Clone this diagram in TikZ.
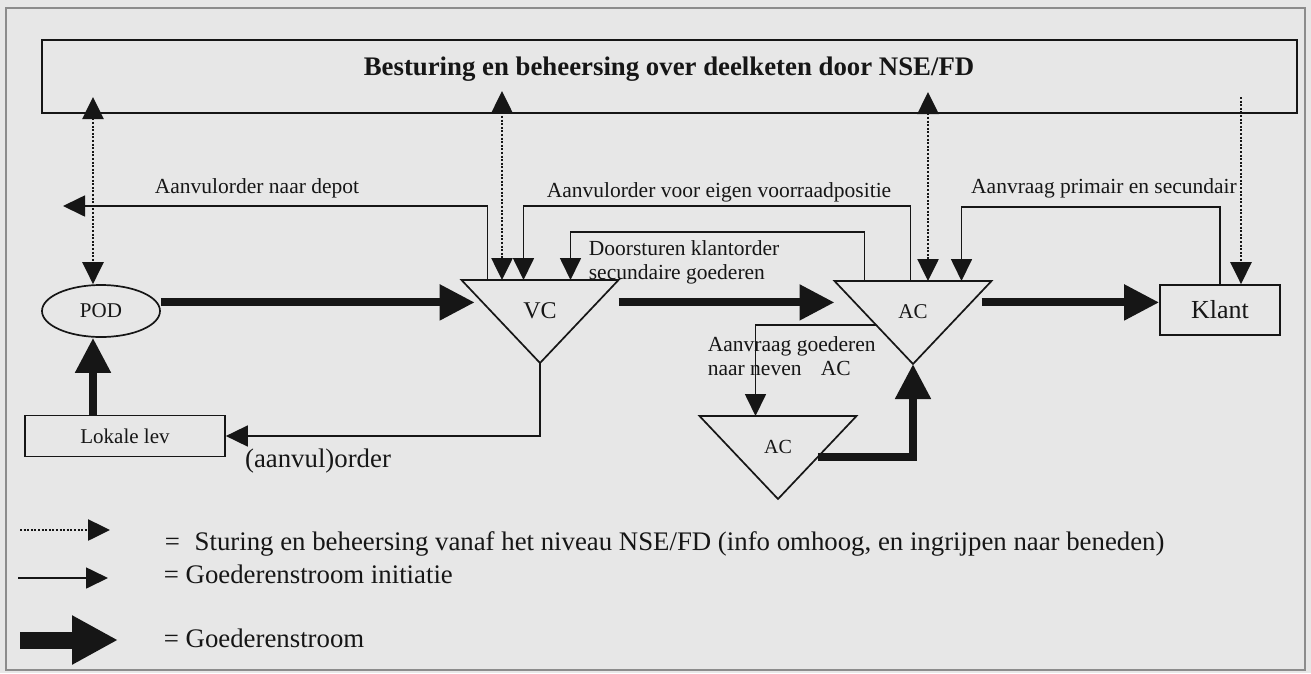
\documentclass[tikz,border=0pt]{standalone}
\usepackage{fontspec}
\setmainfont{Liberation Serif}
\usetikzlibrary{
  arrows.meta,
  shapes.geometric,
  calc
}
\definecolor{scanbg}{RGB}{231,231,231}
\definecolor{ink}{RGB}{22,22,22}
\definecolor{framegray}{RGB}{140,140,140}
\newcommand{\lblfont}{\fontsize{21.5}{24}\selectfont}
\newcommand{\legfont}{\fontsize{26.8}{30}\selectfont}
\newcommand{\titlefont}{\fontsize{26.8}{30}\selectfont\bfseries}

\begin{document}
\begin{tikzpicture}[
  x=1pt, y=-1pt,
  color=ink,
  line width=1.7pt,
  chead/.tip={Triangle[length=22pt,width=21pt]},
  ghead/.tip={Triangle[length=35pt,width=34pt]},
  lhead/.tip={Triangle[length=46pt,width=46pt]},
  unitbox/.style={
    draw,
    line width=1.7pt,
    inner sep=0pt,
    align=center
  },
  lbl/.style={font=\lblfont, inner sep=0pt},
  legtxt/.style={font=\legfont, inner sep=0pt, anchor=base west},
  ctrl/.style={line width=2.6pt, dash pattern=on 2pt off 1.6pt},
  init/.style={line width=1.7pt, -chead},
  goods/.style={line width=8pt, -ghead},
  tri/.style={line width=1.7pt, line join=miter}
]

% scanned page
\fill[scanbg] (0,0) rectangle (1311,673);
\useasboundingbox (0,0) rectangle (1311,673);
\draw[framegray, line width=1.5pt] (6,8) rectangle (1305,670);

% control level
\node[unitbox, minimum width=1255pt, minimum height=73pt] (nse) at (669.5,76.5) {};
\node[font=\titlefont, inner sep=0pt, anchor=base] (nsetitle) at (669,75)
  {Besturing en beheersing over deelketen door NSE/FD};

% units
\node[unitbox, ellipse, minimum width=118pt, minimum height=52pt, font=\fontsize{21}{24}\selectfont] (pod) at (101,311) {POD};
\node[unitbox, minimum width=200pt, minimum height=41pt, font=\fontsize{21}{24}\selectfont] (lev) at (125,436) {Lokale lev};
\node[unitbox, minimum width=120pt, minimum height=50pt, font=\fontsize{26}{28}\selectfont] (klant) at (1220,310) {Klant};

\foreach \tri/\cx/\ty/\txt/\fs in {vc/540/280/VC/24, ac/913/281/AC/21, sac/778/416/AC/20} {
  \draw[tri] (\cx-78.5,\ty) coordinate (\tri-nw) -- (\cx+78.5,\ty) coordinate (\tri-ne)
    -- (\cx,\ty+83) coordinate (\tri-s) -- cycle;
  \node[inner sep=0pt, font=\fontsize{\fs}{\fs}\selectfont] (\tri) at (\cx,\ty+31) {\txt};
}

% control arrows
\coordinate (nse-p) at (93,97);
\coordinate (nse-v) at (502,91);
\coordinate (nse-a) at (928,92);
\coordinate (nse-k) at (1241,97);
\draw[ctrl, chead-chead] (nse-p) -- ([xshift=-8pt]pod.north);
\draw[ctrl, chead-chead] (nse-v) -- (nse-v |- vc-nw);
\draw[ctrl, chead-chead] (nse-a) -- (nse-a |- ac-nw);
\draw[ctrl, -chead] (nse-k) -- ([xshift=21pt]klant.north);

% goods flow initiation
\coordinate (depot) at (63,206);
\draw[init] ([xshift=26pt]vc-nw) |- (depot);
\node[lbl, anchor=base] (lbldepot) at (257,193) {Aanvulorder naar depot};

\draw[init] ([xshift=76pt]ac-nw) -- ++(0,-75) -| ([xshift=62pt]vc-nw);
\node[lbl, anchor=base] (lbleigen) at (719,197) {Aanvulorder voor eigen voorraadpositie};

\draw[init] ([xshift=30pt]ac-nw) -- ++(0,-49) -| ([xshift=109pt]vc-nw);
\node[lbl, anchor=west, align=left] (lbldoor) at (588,262) {Doorsturen klantorder\\secundaire goederen};

\draw[init] (klant.north) -- ++(0,-77) -| ([xshift=127pt]ac-nw);
\node[lbl, anchor=base] (lblprim) at (1104,193) {Aanvraag primair en secundair};

\draw[init] ($(ac-nw)!0.53!(ac-s)$) -| ([xshift=56pt]sac-nw);
\node[lbl, anchor=west, align=left] (lblneven) at (707,356) {Aanvraag goederen\\naar neven\hspace{0.9em}AC};

\draw[init] (vc-s) |- (lev.east);
\node[font=\legfont, inner sep=0pt, anchor=base] (lblorder) at (318,467) {(aanvul)order};

% goods flow
\coordinate (vc-in) at ($(vc-nw)!0.27!(vc-s)$);
\draw[goods] ([xshift=-32pt]lev.north) -- ([xshift=-8pt]pod.south);
\draw[goods] (pod.east |- vc-in) -- ([xshift=-8pt]vc-in);
\draw[goods] (vc-ne |- vc-in) -- (ac-nw |- vc-in);
\draw[goods] ([xshift=-10pt]ac-ne |- vc-in) -- (klant.west |- vc-in);
\draw[goods] ($(sac-ne)!0.49!(sac-s)$) -| (ac-s);

% legend
\coordinate (leg1a) at (20,530);
\coordinate (leg1b) at (110,530);
\coordinate (leg2a) at (18,578);
\coordinate (leg2b) at (108,578);
\coordinate (leg3a) at (20,640);
\coordinate (leg3b) at (118,640);
\draw[ctrl, -chead] (leg1a) -- (leg1b);
\draw[init] (leg2a) -- (leg2b);
\draw[line width=17pt, -lhead] (leg3a) -- (leg3b);
\node[legtxt] (leg1) at (164,550) {=\hspace{0.55em}Sturing en beheersing vanaf het niveau NSE/FD (info omhoog, en ingrijpen naar beneden)};
\node[legtxt] (leg2) at (163,583) {= Goederenstroom initiatie};
\node[legtxt] (leg3) at (163,647) {= Goederenstroom};

\end{tikzpicture}
\end{document}
